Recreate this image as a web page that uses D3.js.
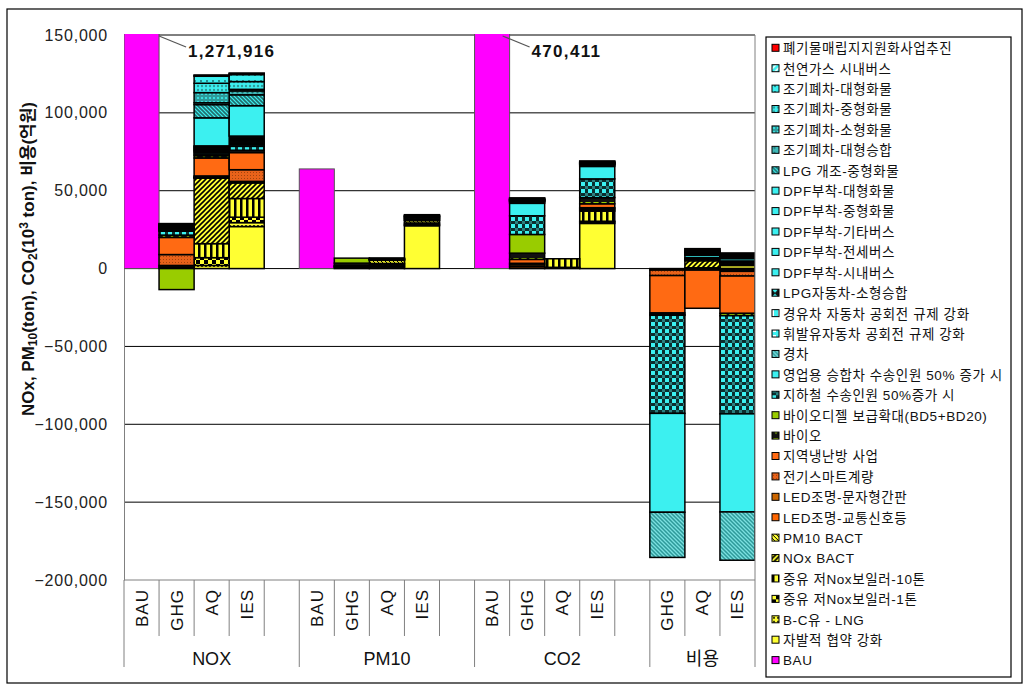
<!DOCTYPE html>
<html>
<head>
<meta charset="utf-8">
<script src="https://cdn.jsdelivr.net/npm/d3@7"></script>
<style>
body { margin: 0; background: #fff; }
svg { display: block; font-family: "Liberation Sans", "Noto Sans CJK KR", sans-serif; }
</style>
</head>
<body>
<svg width="1035" height="696"></svg>
<script>
// Categories: 18 slots in 4 groups (blank slot between groups).
var groupNames = ['NOX', 'PM10', 'CO2', '비용'];
var slotGroup  = [0,0,0,0,0, 1,1,1,1,1, 2,2,2,2,2, 3,3,3];
var slotLabels = ['BAU','GHG','AQ','IES','', 'BAU','GHG','AQ','IES','', 'BAU','GHG','AQ','IES','', 'GHG','AQ','IES'];
var yTicks = [-200000, -150000, -100000, -50000, 0, 50000, 100000, 150000];

// Series values, stacking order bottom-up (one value per slot).
var sBAU        = [1271916,0,0,0,0, 64000,0,0,0,0, 470411,0,0,0,0, 0,0,0];
var sVolunt     = [0,0,0,27000,0, 0,0,0,27500,0, 0,0,0,29000,0, 0,0,2000];
var sBC         = [0,0,2000,2500,0, 0,0,1000,500,0, 0,0,300,800,0, 0,0,300];
var sHeavy1     = [0,0,5000,3500,0, 0,0,800,500,0, 0,0,500,600,0, 0,0,200];
var sHeavy10    = [0,0,9000,12000,0, 0,0,1000,800,0, 0,0,5500,6500,0, 0,500,500];
var sNoxBact    = [0,0,42000,10000,0, 0,0,500,0,0, 0,0,0,0,0, 0,4500,500];
var sPmBact     = [0,0,300,300,0, 0,0,2000,1500,0, 0,0,0,0,0, 0,500,500];
var sLedSignal  = [0,1000,300,300,0, 0,600,0,0,0, 0,1200,0,800,0, -1000,-1000,-1000];
var sLedSign    = [0,1000,300,400,0, 0,600,0,0,0, 0,1200,0,800,0, 0,0,-800];
var sSmart      = [0,7000,600,7500,0, 0,300,0,0,0, 0,1000,0,600,0, -3500,0,-3000];
var sDistrict   = [0,11000,11500,11000,0, 0,500,0,300,0, 0,2500,0,2500,0, -24000,-24500,-24000];
var sBio        = [0,1500,1500,1500,0, 0,1500,0,500,0, 0,4000,0,4000,0, -1000,0,-1500];
var sBiodiesel  = [0,-13500,0,0,0, 0,3200,0,0,0, 0,12000,0,0,0, -500,0,0];
var sSubway     = [0,2500,1000,2500,0, 0,0,0,500,0, 0,12000,0,12000,0, -63000,0,-63000];
var sVan        = [0,500,1000,1000,0, 0,0,0,300,0, 0,8000,0,8000,0, -63500,0,-63000];
var sLight      = [0,500,800,800,0, 0,0,0,0,0, 0,800,0,800,0, -29000,0,-31000];
var sGasoline   = [0,300,500,500,0, 0,0,200,0,0, 0,300,0,300,0, 0,500,300];
var sDiesel     = [0,300,500,1000,0, 0,0,200,500,0, 0,300,0,300,0, 0,500,300];
var sLpgVan     = [0,300,500,500,0, 0,0,0,0,0, 0,300,0,300,0, 0,600,300];
var sDpfCity    = [0,200,500,700,0, 0,0,200,300,0, 0,200,0,200,0, 0,1500,1500];
var sDpfCharter = [0,200,500,700,0, 0,0,200,300,0, 0,200,0,200,0, 0,300,300];
var sDpfOther   = [0,200,500,700,0, 0,0,200,300,0, 0,200,0,200,0, 0,300,300];
var sDpfMid     = [0,200,500,700,0, 0,0,200,300,0, 0,200,0,200,0, 0,300,300];
var sDpfLarge   = [0,200,18000,19500,0, 0,0,300,500,0, 0,200,0,200,0, 0,800,800];
var sLpgConv    = [0,300,8500,7000,0, 0,0,0,0,0, 0,0,0,0,0, 0,0,0];
var sScrapBus   = [0,300,1200,2500,0, 0,0,0,0,0, 0,0,0,0,0, 0,300,200];
var sScrapSmall = [0,300,6500,1000,0, 0,0,0,0,0, 0,0,0,0,0, 0,300,200];
var sScrapMid   = [0,300,6000,5000,0, 0,0,0,0,0, 0,0,0,0,0, 0,300,200];
var sScrapLarge = [0,300,4500,4500,0, 0,0,0,0,0, 0,0,0,0,0, 0,300,200];
var sCng        = [0,300,500,500,0, 0,0,0,0,0, 0,500,0,500,0, 0,1000,800];
var sWaste      = [0,200,300,500,0, 0,0,0,0,0, 0,300,0,300,0, 0,300,300];

var seriesNames = ['BAU', '자발적 협약 강화', 'B-C유 - LNG', '중유 저Nox보일러-1톤', '중유 저Nox보일러-10톤',
  'NOx BACT', 'PM10 BACT', 'LED조명-교통신호등', 'LED조명-문자형간판', '전기스마트계량', '지역냉난방 사업',
  '바이오', '바이오디젤 보급확대(BD5+BD20)', '지하철 수송인원 50%증가 시', '영업용 승합차 수송인원 50% 증가 시',
  '경차', '휘발유자동차 공회전 규제 강화', '경유차 자동차 공회전 규제 강화', 'LPG자동차-소형승합',
  'DPF부착-시내버스', 'DPF부착-전세버스', 'DPF부착-기타버스', 'DPF부착-중형화물', 'DPF부착-대형화물',
  'LPG 개조-중형화물', '조기폐차-대형승합', '조기폐차-소형화물', '조기폐차-중형화물', '조기폐차-대형화물',
  '천연가스 시내버스', '폐기물매립지지원화사업추진'];
var seriesValues = [sBAU, sVolunt, sBC, sHeavy1, sHeavy10, sNoxBact, sPmBact, sLedSignal, sLedSign, sSmart,
  sDistrict, sBio, sBiodiesel, sSubway, sVan, sLight, sGasoline, sDiesel, sLpgVan, sDpfCity, sDpfCharter,
  sDpfOther, sDpfMid, sDpfLarge, sLpgConv, sScrapBus, sScrapSmall, sScrapMid, sScrapLarge, sCng, sWaste];

// Basic layout.
var svg = d3.select('svg');
var plot = {left: 124, right: 755, top: 35, bottom: 580};
var x = d3.scaleBand().domain(d3.range(slotLabels.length)).range([plot.left, plot.right]);
var y = d3.scaleLinear().domain([-200000, 150000]).range([plot.bottom, plot.top]);

// Fill patterns.
var defs = svg.append('defs');
var cyan = '#3CF0F0', teal = '#2E9A9A', yellow = '#FFFF33', orange = '#FF6A13';

function pattern(id, size, bg) {
  var p = defs.append('pattern').attr('id', id).attr('patternUnits', 'userSpaceOnUse')
    .attr('width', size).attr('height', size);
  p.append('rect').attr('width', size).attr('height', size).attr('fill', bg);
  return p;
}
function dots(id, size, bg, fg, r) {
  pattern(id, size, bg).append('circle').attr('cx', size / 2).attr('cy', size / 2).attr('r', r).attr('fill', fg);
}
function diag(id, size, bg, fg, w, up) {
  var s = size;
  var d = up ? 'M0,' + s + 'L' + s + ',0M-1,1L1,-1M' + (s - 1) + ',' + (s + 1) + 'L' + (s + 1) + ',' + (s - 1)
             : 'M0,0L' + s + ',' + s + 'M-1,' + (s - 1) + 'L1,' + (s + 1) + 'M' + (s - 1) + ',-1L' + (s + 1) + ',1';
  pattern(id, size, bg).append('path').attr('d', d).attr('stroke', fg).attr('stroke-width', w);
}
function vstripe(id, size, bg, fg, w) {
  pattern(id, size, bg).append('rect').attr('width', w).attr('height', size).attr('fill', fg);
}
function checker(id, size, bg, fg) {
  var p = pattern(id, size, bg), h = size / 2;
  p.append('rect').attr('width', h).attr('height', h).attr('fill', fg);
  p.append('rect').attr('x', h).attr('y', h).attr('width', h).attr('height', h).attr('fill', fg);
}

diag('pCng', 6, cyan, '#fff', 1.5, true);
dots('pScrapLarge', 6, cyan, '#1b5f5f', 0.9);
dots('pScrapMid', 4, cyan, teal, 1.2);
dots('pScrapSmall', 4, teal, cyan, 1.1);
dots('pScrapBus', 5, '#3fb8b8', '#1d6b6b', 1.1);
diag('pLpgConv', 4, cyan, '#226e6e', 1.6, false);
(function () {
  var p = pattern('pLpgVan', 6, '#111');
  p.append('path').attr('d', 'M3,0.5L5.5,3L3,5.5L0.5,3Z').attr('fill', cyan);
})();
vstripe('pDiesel', 6, cyan, '#fff', 2);
(function () {
  var p = pattern('pGasoline', 6, cyan);
  p.append('rect').attr('x', 1).attr('y', 1).attr('width', 3).attr('height', 3).attr('fill', '#fff');
})();
diag('pLight', 4, '#2E9A9A', '#7be0e0', 1.3, false);
(function () {
  var p = pattern('pSubway', 7, '#0b2f2f');
  p.append('rect').attr('x', 0).attr('y', 0).attr('width', 4).attr('height', 4).attr('fill', cyan);
  p.append('rect').attr('x', 4).attr('y', 4).attr('width', 3).attr('height', 3).attr('fill', '#2a8080');
})();
(function () {
  var p = pattern('pBio', 8, '#111');
  p.append('path').attr('d', 'M1,2L7,2L4,6Z').attr('fill', '#99CC00');
})();
dots('pSmart', 3, '#E8621A', '#8a3a0a', 0.5);
diag('pPmBact', 4, yellow, '#000', 1, false);
diag('pNoxBact', 5, yellow, '#000', 1.6, true);
vstripe('pHeavy10', 6, yellow, '#000', 2.5);
checker('pHeavy1', 8, yellow, '#000');
dots('pBC', 4, yellow, '#000', 1);

var fills = {
  'BAU': '#FF00FF',
  '자발적 협약 강화': yellow,
  'B-C유 - LNG': 'url(#pBC)',
  '중유 저Nox보일러-1톤': 'url(#pHeavy1)',
  '중유 저Nox보일러-10톤': 'url(#pHeavy10)',
  'NOx BACT': 'url(#pNoxBact)',
  'PM10 BACT': 'url(#pPmBact)',
  'LED조명-교통신호등': '#FF6600',
  'LED조명-문자형간판': '#CC6600',
  '전기스마트계량': 'url(#pSmart)',
  '지역냉난방 사업': orange,
  '바이오': 'url(#pBio)',
  '바이오디젤 보급확대(BD5+BD20)': '#99CC00',
  '지하철 수송인원 50%증가 시': 'url(#pSubway)',
  '영업용 승합차 수송인원 50% 증가 시': cyan,
  '경차': 'url(#pLight)',
  '휘발유자동차 공회전 규제 강화': 'url(#pGasoline)',
  '경유차 자동차 공회전 규제 강화': 'url(#pDiesel)',
  'LPG자동차-소형승합': 'url(#pLpgVan)',
  'DPF부착-시내버스': cyan,
  'DPF부착-전세버스': cyan,
  'DPF부착-기타버스': cyan,
  'DPF부착-중형화물': cyan,
  'DPF부착-대형화물': cyan,
  'LPG 개조-중형화물': 'url(#pLpgConv)',
  '조기폐차-대형승합': 'url(#pScrapBus)',
  '조기폐차-소형화물': 'url(#pScrapSmall)',
  '조기폐차-중형화물': 'url(#pScrapMid)',
  '조기폐차-대형화물': 'url(#pScrapLarge)',
  '천연가스 시내버스': 'url(#pCng)',
  '폐기물매립지지원화사업추진': '#FF0000'
};

// Outer frame.
svg.append('rect').attr('x', 7).attr('y', 9).attr('width', 1015).attr('height', 674)
  .attr('fill', 'none').attr('stroke', '#000').attr('stroke-width', 1.2);

// Grid lines.
svg.append('g').selectAll('line')
  .data(yTicks.filter(function (d) { return d > -200000; }))
  .enter().append('line')
  .attr('x1', plot.left).attr('x2', plot.right)
  .attr('y1', y).attr('y2', y)
  .attr('stroke', '#000').attr('stroke-width', 1);

// Y axis.
var yAxis = svg.append('g').attr('transform', 'translate(' + plot.left + ',0)')
  .call(d3.axisLeft(y).tickValues(yTicks).tickFormat(d3.format(',')).tickSize(0).tickPadding(16));
yAxis.attr('font-family', null).attr('font-size', null);
yAxis.select('.domain').attr('stroke', '#808080');
yAxis.selectAll('text').attr('font-size', 16).attr('fill', '#222').attr('letter-spacing', 0.8);

// Stacked bars.
var rows = slotLabels.map(function (d, i) {
  var r = {slot: i};
  seriesNames.forEach(function (n, k) { r[n] = seriesValues[k][i]; });
  return r;
});
var series = d3.stack().keys(seriesNames).offset(d3.stackOffsetDiverging)(rows);

defs.append('clipPath').attr('id', 'plotClip').append('rect')
  .attr('x', plot.left).attr('y', plot.top - 1).attr('width', plot.right - plot.left).attr('height', plot.bottom - plot.top + 1);

var bars = svg.append('g').attr('clip-path', 'url(#plotClip)');
bars.selectAll('g')
  .data(series)
  .enter().append('g')
  .attr('fill', function (d) { return fills[d.key]; })
  .attr('stroke', function (d) { return d.key === 'BAU' ? '#555' : '#000'; })
  .attr('stroke-width', function (d) { return d.key === 'BAU' ? 1 : 1.5; })
  .selectAll('rect')
  .data(function (d) { return d.filter(function (e) { return e[1] !== e[0]; }); })
  .enter().append('rect')
  .attr('x', function (d) { return x(d.data.slot); })
  .attr('width', x.bandwidth())
  .attr('y', function (d) { return y(Math.max(d[0], d[1])); })
  .attr('height', function (d) { return Math.abs(y(d[0]) - y(d[1])); });

// Right border of plot, x axis line.
svg.append('line').attr('x1', plot.left).attr('x2', plot.right).attr('y1', plot.bottom).attr('y2', plot.bottom)
  .attr('stroke', '#808080');

// Multi-level category axis.
var step = x.step();
var cat = svg.append('g').attr('stroke', '#808080');
d3.range(slotLabels.length + 1).forEach(function (i) {
  var isGroupEdge = i === 0 || i === slotLabels.length || slotGroup[i] !== slotGroup[i - 1];
  cat.append('line')
    .attr('x1', plot.left + i * step).attr('x2', plot.left + i * step)
    .attr('y1', plot.bottom).attr('y2', isGroupEdge ? 667 : 636);
});
svg.append('line').attr('x1', plot.right).attr('x2', plot.right).attr('y1', plot.top).attr('y2', plot.bottom)
  .attr('stroke', '#808080');

svg.append('g').selectAll('text')
  .data(slotLabels.map(function (d, i) { return {label: d, i: i}; }).filter(function (d) { return d.label; }))
  .enter().append('text')
  .attr('transform', function (d) { return 'translate(' + (x(d.i) + x.bandwidth() / 2 + 6) + ',589) rotate(-90)'; })
  .attr('text-anchor', 'end')
  .attr('font-size', 17)
  .attr('letter-spacing', 1)
  .attr('fill', '#111')
  .text(function (d) { return d.label; });

svg.append('g').selectAll('text')
  .data(groupNames)
  .enter().append('text')
  .attr('x', function (d, g) {
    var idx = slotGroup.map(function (s, i) { return s === g ? i : -1; }).filter(function (i) { return i >= 0; });
    return (x(idx[0]) + x(idx[idx.length - 1]) + step) / 2;
  })
  .attr('y', 665)
  .attr('text-anchor', 'middle')
  .attr('font-size', 18)
  .attr('fill', '#111')
  .text(function (d) { return d; });

// Value labels for the clipped BAU bars.
[0, 10].forEach(function (i, k) {
  var x0 = x(i) + x.bandwidth();
  var dx = k === 0 ? 0 : -7;
  svg.append('line').attr('x1', x0 + dx).attr('y1', plot.top + 1).attr('x2', x0 + dx + 27).attr('y2', plot.top + 12)
    .attr('stroke', '#555').attr('stroke-width', 1.2);
  svg.append('text').attr('x', x0 + dx + 29).attr('y', plot.top + 22)
    .attr('font-size', 17).attr('font-weight', 'bold').attr('letter-spacing', 1.3).attr('fill', '#111')
    .text(d3.format(',')(sBAU[i]));
});

// Y axis title.
var title = svg.append('text').attr('transform', 'translate(34,259) rotate(-90)')
  .attr('text-anchor', 'middle').attr('font-size', 17).attr('font-weight', 'bold').attr('fill', '#111');
title.append('tspan').text('NOx, PM');
title.append('tspan').attr('font-size', 12).attr('dy', 3).text('10');
title.append('tspan').attr('dy', -3).text('(ton), CO');
title.append('tspan').attr('font-size', 12).attr('dy', 3).text('2');
title.append('tspan').attr('dy', -3).text('(10');
title.append('tspan').attr('font-size', 12).attr('dy', -6).text('3');
title.append('tspan').attr('dy', 6).text(' ton), 비용(억원)');

// Legend.
svg.append('rect').attr('x', 766).attr('y', 37).attr('width', 245).attr('height', 640)
  .attr('fill', '#fff').attr('stroke', '#000').attr('stroke-width', 1.2);
var legend = svg.append('g').selectAll('g')
  .data(seriesNames.slice().reverse())
  .enter().append('g')
  .attr('transform', function (d, i) { return 'translate(772,' + (48.3 + i * 20.41) + ')'; });
legend.append('rect').attr('x', 0).attr('y', -4).attr('width', 7).attr('height', 7)
  .attr('fill', function (d) { return fills[d]; }).attr('stroke', '#000').attr('stroke-width', 1);
legend.append('text').attr('x', 11).attr('y', 0).attr('dy', '0.36em')
  .attr('font-size', 13.5).attr('letter-spacing', 0.6).attr('fill', '#111')
  .text(function (d) { return d; });
</script>
</body>
</html>
